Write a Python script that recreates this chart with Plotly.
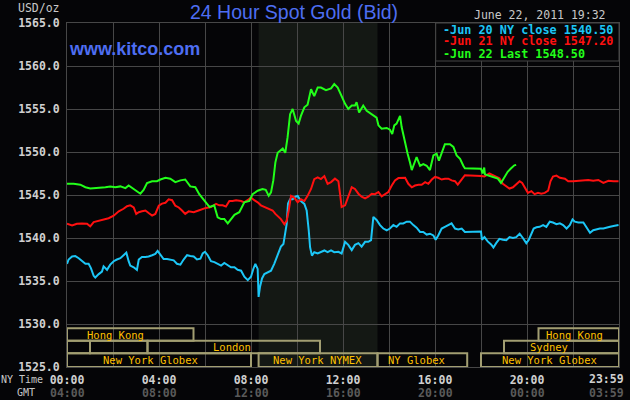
import plotly.graph_objects as go

# ---------------- data (hours in NY time, price in USD/oz) ----------------
jun20_t = [0.00, 0.07, 0.22, 0.36, 0.51, 0.65, 0.80, 0.94, 1.04, 1.16, 1.23, 1.38, 1.52, 1.59, 1.74, 1.88,
           2.03, 2.17, 2.32, 2.46, 2.58, 2.68, 2.75, 2.90, 3.04, 3.12, 3.26, 3.41, 3.55, 3.70, 3.84, 3.94,
           4.06, 4.20, 4.35, 4.49, 4.64, 4.78, 4.93, 5.07, 5.22, 5.36, 5.51, 5.65, 5.80, 5.90, 6.00, 6.12,
           6.26, 6.41, 6.55, 6.70, 6.84, 6.99, 7.13, 7.28, 7.42, 7.57, 7.71, 7.86, 8.00, 8.10, 8.19, 8.29,
           8.33, 8.39, 8.48, 8.58, 8.72, 8.87, 9.01, 9.16, 9.30, 9.41, 9.49, 9.55, 9.61, 9.70, 9.81, 9.93,
           10.03, 10.17, 10.32, 10.42, 10.51, 10.57, 10.65, 10.75, 10.90, 11.04, 11.19, 11.33, 11.48, 11.62,
           11.80, 11.94, 12.09, 12.23, 12.38, 12.52, 12.67, 12.81, 12.96, 13.10, 13.22, 13.32, 13.46, 13.61,
           13.75, 13.90, 14.04, 14.19, 14.33, 14.48, 14.62, 14.77, 14.91, 15.06, 15.20, 15.35, 15.49, 15.64,
           15.78, 15.93, 16.03, 16.14, 16.29, 16.43, 16.58, 16.72, 16.87, 17.01, 17.16, 17.30, 18.00, 18.04,
           18.15, 18.29, 18.44, 18.54, 18.66, 18.80, 18.95, 19.10, 19.24, 19.39, 19.53, 19.68, 19.82, 19.97,
           20.08, 20.19, 20.29, 20.41, 20.55, 20.70, 20.84, 20.99, 21.13, 21.28, 21.43, 21.57, 21.72, 21.86,
           21.98, 22.08, 22.23, 22.45, 22.59, 22.74, 22.88, 23.03, 23.17, 23.32, 23.47, 23.61, 23.76, 23.98]
jun20_v = [1537.0, 1537.5, 1537.85, 1537.9, 1537.65, 1537.3, 1537.0, 1537.0, 1536.5, 1535.6, 1535.4, 1535.8,
           1536.1, 1536.7, 1536.3, 1536.9, 1537.3, 1537.5, 1537.65, 1538.0, 1538.3, 1537.3, 1536.8, 1536.6,
           1536.3, 1537.5, 1537.8, 1537.8, 1537.85, 1538.0, 1538.15, 1538.5, 1538.0, 1537.55, 1537.55, 1537.5,
           1537.4, 1537.0, 1536.9, 1537.5, 1538.0, 1537.9, 1537.85, 1537.5, 1537.6, 1538.2, 1538.4, 1538.0,
           1537.3, 1537.2, 1537.0, 1536.8, 1537.1, 1536.8, 1536.6, 1536.6, 1536.3, 1536.2, 1535.5, 1535.1,
           1535.5, 1536.4, 1537.0, 1536.4, 1533.15, 1534.3, 1535.3, 1535.8, 1536.0, 1536.2, 1537.0, 1537.95,
           1539.0, 1539.3, 1540.5, 1541.6, 1544.0, 1544.5, 1544.5, 1544.8, 1544.9, 1544.3, 1543.96, 1543.2,
           1540.9, 1538.9, 1537.95, 1538.35, 1538.2, 1538.35, 1538.55, 1538.35, 1538.55, 1538.35, 1538.4,
           1538.2, 1539.55, 1539.2, 1538.6, 1539.2, 1539.4, 1539.0, 1539.55, 1539.55, 1539.75, 1542.45,
           1542.1, 1541.5, 1541.1, 1540.9, 1541.1, 1541.5, 1541.3, 1541.7, 1541.7, 1541.9, 1541.9, 1541.5,
           1541.2, 1540.7, 1540.7, 1540.4, 1540.5, 1540.3, 1539.8, 1540.3, 1541.1, 1541.3, 1541.5, 1541.7,
           1541.1, 1541.0, 1541.1, 1540.7, 1540.75, 1539.8, 1540.1, 1539.6, 1539.25, 1538.9, 1539.4, 1539.9,
           1539.8, 1539.75, 1540.1, 1540.0, 1540.1, 1540.5, 1540.0, 1539.4, 1539.8, 1540.6, 1541.1, 1541.25,
           1541.3, 1541.5, 1541.3, 1541.9, 1541.8, 1541.6, 1541.7, 1541.5, 1541.1, 1541.5, 1542.15, 1541.9,
           1541.8, 1541.8, 1541.25, 1540.6, 1540.9, 1541.0, 1541.1, 1541.1, 1541.25, 1541.3, 1541.4, 1541.5]

jun21_t = [0.00, 0.22, 0.43, 0.65, 0.87, 1.01, 1.16, 1.38, 1.59, 1.81, 2.03, 2.25, 2.46, 2.61, 2.75, 2.90,
           3.01, 3.12, 3.26, 3.41, 3.55, 3.70, 3.84, 3.99, 4.13, 4.28, 4.42, 4.57, 4.71, 4.86, 5.00, 5.14,
           5.29, 5.51, 5.72, 5.90, 6.04, 6.26, 6.48, 6.62, 6.77, 6.91, 7.06, 7.20, 7.35, 7.57, 7.71, 7.90,
           8.00, 8.14, 8.29, 8.43, 8.58, 8.80, 8.94, 9.06, 9.20, 9.30, 9.45, 9.55, 9.64, 9.74, 9.88, 10.03,
           10.17, 10.32, 10.46, 10.61, 10.75, 10.90, 11.04, 11.19, 11.33, 11.48, 11.65, 11.80, 11.87, 11.94,
           12.09, 12.23, 12.38, 12.52, 12.67, 12.81, 12.96, 13.10, 13.25, 13.39, 13.54, 13.68, 13.83, 13.97,
           14.12, 14.26, 14.41, 14.55, 14.70, 14.84, 14.99, 15.13, 15.28, 15.42, 15.57, 15.71, 15.86, 16.00,
           16.14, 16.29, 16.43, 16.58, 16.72, 16.87, 16.99, 17.13, 17.30, 18.00, 18.15, 18.36, 18.51, 18.66,
           18.80, 18.95, 19.10, 19.24, 19.39, 19.53, 19.68, 19.79, 19.94, 20.04, 20.19, 20.33, 20.48, 20.62,
           20.77, 20.92, 21.02, 21.13, 21.28, 21.43, 21.65, 21.79, 22.01, 22.23, 22.45, 22.66, 22.88, 23.10,
           23.32, 23.54, 23.76, 23.98]
jun21_v = [1541.65, 1541.45, 1541.65, 1541.7, 1541.65, 1541.35, 1541.85, 1542.0, 1542.2, 1542.3, 1542.6,
           1543.1, 1543.4, 1543.7, 1543.8, 1543.55, 1542.8, 1543.0, 1543.1, 1543.2, 1542.9, 1542.6, 1542.8,
           1543.75, 1544.0, 1544.1, 1544.5, 1544.4, 1543.75, 1543.55, 1543.2, 1542.8, 1543.1, 1543.0, 1543.2,
           1543.4, 1543.5, 1543.6, 1543.96, 1543.8, 1543.8, 1543.65, 1544.3, 1544.3, 1544.4, 1544.3, 1544.15,
           1544.5, 1544.7, 1544.4, 1544.15, 1543.8, 1543.6, 1543.4, 1543.2, 1542.8, 1542.5, 1542.2, 1541.6,
           1542.0, 1543.2, 1544.9, 1544.7, 1544.15, 1544.5, 1544.3, 1544.9, 1545.7, 1546.85, 1547.05, 1546.85,
           1547.2, 1546.3, 1546.5, 1546.9, 1546.6, 1545.15, 1543.6, 1543.8, 1544.8, 1545.9, 1545.7, 1545.15,
           1544.8, 1544.6, 1544.8, 1545.15, 1545.1, 1545.35, 1544.85, 1545.1, 1545.35, 1546.1, 1546.7, 1546.97,
           1547.0, 1547.0, 1546.3, 1545.9, 1546.1, 1546.2, 1546.2, 1546.5, 1546.3, 1546.8, 1547.1, 1547.0,
           1546.8, 1546.9, 1546.9, 1546.7, 1546.6, 1546.2, 1546.7, 1547.3, 1547.2, 1547.15, 1547.5, 1547.3,
           1547.15, 1546.95, 1546.3, 1546.0, 1545.75, 1545.9, 1546.2, 1546.6, 1546.4, 1545.8, 1545.25, 1545.45,
           1545.1, 1545.25, 1545.15, 1545.25, 1545.5, 1546.6, 1547.15, 1547.25, 1547.0, 1546.9, 1546.6, 1546.6,
           1546.65, 1546.65, 1546.75, 1546.65, 1546.75, 1546.4, 1546.65, 1546.6, 1546.6]

jun22_t = [0.00, 0.29, 0.58, 0.80, 1.01, 1.23, 1.45, 1.67, 1.88, 2.10, 2.32, 2.54, 2.68, 2.83, 3.04, 3.19,
           3.33, 3.48, 3.70, 3.91, 4.06, 4.28, 4.49, 4.71, 4.93, 5.14, 5.36, 5.58, 5.75, 5.90, 6.05, 6.20,
           6.40, 6.55, 6.70, 6.84, 6.99, 7.13, 7.28, 7.49, 7.71, 7.93, 8.07, 8.29, 8.50, 8.64, 8.77, 8.87,
           8.97, 9.06, 9.16, 9.38, 9.49, 9.59, 9.70, 9.81, 9.96, 10.07, 10.17, 10.32, 10.46, 10.61, 10.75,
           10.90, 11.04, 11.26, 11.48, 11.62, 11.77, 11.94, 12.09, 12.23, 12.38, 12.52, 12.59, 12.70, 12.88,
           13.03, 13.25, 13.46, 13.54, 13.68, 13.90, 14.04, 14.14, 14.23, 14.33, 14.48, 14.55, 14.70, 14.81,
           14.91, 14.99, 15.06, 15.20, 15.35, 15.49, 15.64, 15.78, 15.93, 16.07, 16.17, 16.29, 16.43, 16.65,
           16.80, 16.94, 17.09, 17.23, 17.30, 18.00, 18.07, 18.14, 18.17, 18.29, 18.51, 18.73, 18.87, 19.02,
           19.16, 19.31, 19.45, 19.53]
jun22_v = [1546.3, 1546.3, 1546.2, 1545.9, 1545.75, 1545.8, 1545.8, 1545.9, 1546.0, 1545.9, 1546.0, 1545.8,
           1546.1, 1545.8, 1545.45, 1545.15, 1545.6, 1546.4, 1546.6, 1546.6, 1546.8, 1547.0, 1546.9, 1546.5,
           1546.7, 1546.8, 1546.0, 1545.9, 1545.1, 1544.6, 1544.2, 1543.6, 1543.8, 1542.4, 1542.2, 1542.2,
           1541.7, 1542.2, 1542.7, 1543.0, 1544.15, 1544.3, 1545.1, 1545.5, 1545.7, 1545.6, 1544.9, 1545.3,
           1546.7, 1548.8, 1549.9, 1550.4, 1549.9, 1551.7, 1554.4, 1555.0, 1553.6, 1553.3, 1554.2, 1555.2,
           1555.5, 1557.3, 1556.5, 1557.5, 1557.5, 1557.2, 1557.4, 1557.9, 1557.5, 1556.5, 1555.6, 1555.0,
           1555.4, 1555.4, 1555.8, 1554.6, 1555.4, 1554.8, 1554.4, 1554.0, 1553.1, 1552.7, 1552.8, 1552.6,
           1552.1, 1553.1, 1553.3, 1554.2, 1552.9, 1550.9, 1549.8, 1548.8, 1547.9, 1548.4, 1549.4, 1548.4,
           1548.6, 1548.4, 1547.9, 1549.6, 1549.8, 1549.0, 1549.8, 1550.9, 1550.9, 1550.6, 1549.6, 1549.2,
           1548.4, 1548.1, 1548.05, 1547.5, 1548.2, 1547.4, 1547.3, 1547.1, 1546.9, 1546.4, 1547.1, 1547.7,
           1548.1, 1548.45, 1548.5]

series_labels = ["Jun 20 NY close 1540.50", "Jun 21 NY close 1547.20", "Jun 22 Last 1548.50"]

x_tick_vals = [0, 2, 4, 6, 8, 10, 12, 14, 16, 18, 20, 22, 24]
x_tick_text = ["00:00", "", "04:00", "", "08:00", "", "12:00", "", "16:00", "", "20:00", "", ""]
last_tick_ny, last_tick_gmt = "23:59", "03:59"
gmt_tick_vals = [0, 4, 8, 12, 16, 20]
gmt_tick_text = ["04:00", "08:00", "12:00", "16:00", "20:00", "00:00"]
y_tick_vals = [1525, 1530, 1535, 1540, 1545, 1550, 1555, 1560, 1565]
y_tick_text = ["1525.0", "1530.0", "1535.0", "1540.0", "1545.0", "1550.0", "1555.0", "1560.0", "1565.0"]

# trading sessions (row 0 = top row)
session_names = ["Hong Kong", "Hong Kong", "", "", "London", "Sydney",
                 "New York Globex", "New York NYMEX", "NY Globex", "New York Globex"]
session_start = [0.0, 20.5, 0.0, 1.0, 3.5, 19.0, 0.0, 8.33, 13.5, 18.0]
session_end = [5.5, 24.0, 1.0, 3.5, 11.0, 24.0, 8.0, 13.5, 17.4, 24.0]
session_row = [0, 0, 1, 1, 1, 1, 2, 2, 2, 2]
session_label_x = [2.12, 22.06, 0, 0, 7.16, 20.97, 3.62, 10.88, 15.19, 20.98]
row_edges = [1529.5, 1528.05, 1526.6, 1525.0]

nymex_pit = [8.33, 13.5]

# ---------------- styling ----------------
W, H = 630, 400
ML, MR, MT, MB = 67, 11, 23, 33
PW, PH = W - ML - MR, H - MT - MB
BG = "#050507"
GRID = "#474747"
C_CYAN, C_RED, C_GREEN = "#1cc6f6", "#ff1010", "#22ff1a"
MONO = "DejaVu Sans Mono"
TICK_FONT = dict(family=MONO, size=11.5, color="#d0d0d0", weight="bold")
GMT_FONT = dict(family=MONO, size=11.5, color="#5a5a5a", weight="bold")


def px(X):
    return (X - ML) / PW


def py(Y):
    return (H - MB - Y) / PH


fig = go.Figure()
for t, v, c, name in [(jun20_t, jun20_v, C_CYAN, series_labels[0]),
                      (jun21_t, jun21_v, C_RED, series_labels[1]),
                      (jun22_t, jun22_v, C_GREEN, series_labels[2])]:
    fig.add_trace(go.Scatter(x=t, y=v, mode="lines", name=name,
                             line=dict(color=c, width=2), hoverinfo="skip"))

shapes = []
# NYMEX pit shading
shapes.append(dict(type="rect", xref="x", yref="paper", x0=nymex_pit[0], x1=nymex_pit[1],
                   y0=0, y1=1, fillcolor="#141814", line=dict(width=0), layer="below"))
# session boxes
annotations = []
for name, s, e, r, lx in zip(session_names, session_start, session_end, session_row, session_label_x):
    y0, y1 = row_edges[r + 1], row_edges[r]
    shapes.append(dict(type="rect", xref="x", yref="y", x0=s, x1=e, y0=y0, y1=y1,
                       line=dict(color="#a29e72", width=2), fillcolor="rgba(0,0,0,0)", layer="above"))
    if name:
        annotations.append(dict(x=lx, y=(y0 + y1) / 2, xref="x", yref="y", text=name,
                                showarrow=False, font=dict(family=MONO, size=10.5, color="#ffc000")))
# legend box
shapes.append(dict(type="rect", xref="paper", yref="paper", x0=px(435.7), x1=1, y0=py(61), y1=1,
                   fillcolor=BG, line=dict(color=GRID, width=1), layer="above"))

for i, (lab, c) in enumerate(zip(series_labels, [C_CYAN, C_RED, C_GREEN])):
    annotations.append(dict(x=px(441), y=py(29.5 + 12 * i), xref="paper", yref="paper",
                            xanchor="left", yanchor="middle", text="-" + lab, showarrow=False,
                            height=12, valign="middle",
                            font=dict(family=MONO, size=11.8, color=c, weight="bold")))

# GMT row of time labels
for xv, txt in zip(gmt_tick_vals, gmt_tick_text):
    annotations.append(dict(x=xv, y=py(392.5), xref="x", yref="paper", text=txt, showarrow=False,
                            yanchor="middle", font=GMT_FONT))
# last labels are pushed inside the window (right aligned)
annotations.append(dict(x=px(626), y=py(379), xref="paper", yref="paper", xanchor="right",
                        yanchor="middle", text=last_tick_ny, showarrow=False, font=TICK_FONT))
annotations.append(dict(x=px(626), y=py(392.5), xref="paper", yref="paper", xanchor="right",
                        yanchor="middle", text=last_tick_gmt, showarrow=False, font=GMT_FONT))

annotations += [
    dict(x=px(294), y=py(11.5), xref="paper", yref="paper", text="24 Hour Spot Gold (Bid)",
         showarrow=False, yanchor="middle", font=dict(family="Liberation Sans", size=19.5, color="#4e6ef2")),
    dict(x=px(67), y=py(48.5), xref="paper", yref="paper", xanchor="left", yanchor="middle",
         text="www.kitco.com", showarrow=False,
         font=dict(family="Liberation Sans", size=18, color="#4e6ef2", weight="bold")),
    dict(x=px(608), y=py(15), xref="paper", yref="paper", xanchor="right", yanchor="middle",
         text="June 22, 2011 19:32", showarrow=False, font=dict(family=MONO, size=11.5, color="#c8c8c8")),
    dict(x=px(62), y=py(8), xref="paper", yref="paper", xanchor="right", yanchor="middle",
         text="USD/oz", showarrow=False, font=dict(family=MONO, size=11.5, color="#c8c8c8")),
    dict(x=px(45), y=py(379), xref="paper", yref="paper", xanchor="right", yanchor="middle",
         text="NY Time", showarrow=False, font=dict(family=MONO, size=10, color="#c8c8c8")),
    dict(x=px(37), y=py(392.5), xref="paper", yref="paper", xanchor="right", yanchor="middle",
         text="GMT", showarrow=False, font=dict(family=MONO, size=10, color="#c8c8c8")),
]

fig.update_layout(
    width=W, height=H, margin=dict(l=ML, r=MR, t=MT, b=MB, pad=0),
    paper_bgcolor=BG, plot_bgcolor=BG, showlegend=False,
    shapes=shapes, annotations=annotations,
    xaxis=dict(range=[0, 24], tickvals=x_tick_vals, ticktext=x_tick_text, showgrid=True,
               gridcolor=GRID, gridwidth=1, zeroline=False, showline=True, linecolor=GRID,
               linewidth=1, mirror=True, ticks="", ticklabelstandoff=2, tickfont=TICK_FONT),
    yaxis=dict(range=[1525, 1565], tickvals=y_tick_vals, ticktext=y_tick_text, showgrid=True,
               gridcolor=GRID, gridwidth=1, zeroline=False, showline=True, linecolor=GRID,
               linewidth=1, mirror=True, ticks="", ticklabelstandoff=4, tickfont=TICK_FONT),
)

fig.write_html("out.html", config={"displayModeBar": False},
               post_script="document.body.style.margin='0';document.body.style.background='%s';" % BG)
